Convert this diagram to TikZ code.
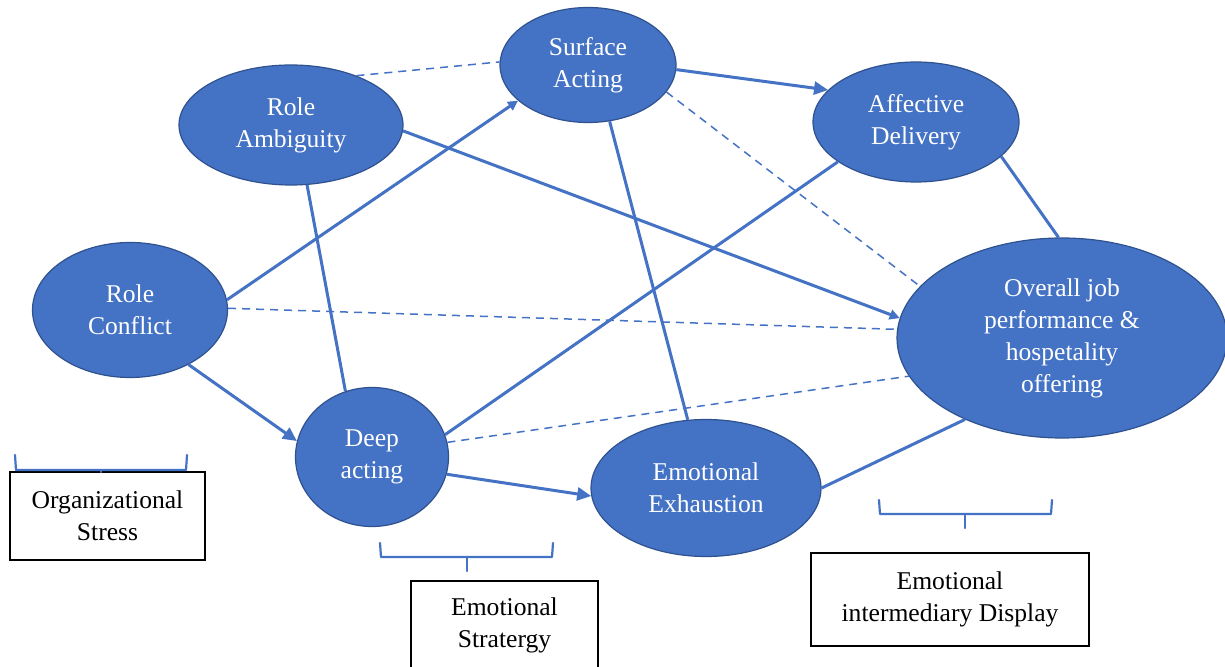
\documentclass[tikz,border=0pt]{standalone}
\usepackage{fontspec}
\setmainfont{Liberation Serif}
\usetikzlibrary{shapes.geometric,arrows.meta}
\definecolor{nodeblue}{HTML}{4472C4}
\definecolor{edgeblue}{HTML}{2F528F}
\begin{document}
\begin{tikzpicture}[x=0.5pt,y=-0.5pt,
  ell/.style={ellipse, fill=nodeblue, draw=edgeblue, line width=0.6pt, inner sep=0pt,
    text=white, align=center, font=\fontsize{12.8}{16}\selectfont},
  box/.style={rectangle, draw=black, line width=0.6pt, fill=white, inner sep=0pt,
    align=center, font=\fontsize{12.8}{16}\selectfont},
  link/.style={draw=nodeblue, line width=1.5pt},
  arr/.style={link, -{Triangle[length=7pt,width=6.5pt]}},
  sarr/.style={link, -{Triangle[length=5pt,width=5pt]}},
  dashlink/.style={draw=nodeblue, line width=0.75pt, dash pattern=on 4pt off 3pt},
  brace/.style={draw=nodeblue, line width=1.1pt, line cap=round, line join=round}]
\clip (0,0) rectangle (1225,667);
\fill[white] (0,0) rectangle (1225,667);

% boxes and brackets
\node[box, minimum width=97.5pt, minimum height=44pt] (os) at (107.5,516) {Organizational\\Stress};
\node[box, minimum width=93.5pt, minimum height=44.5pt] (es) at (504.5,625.5) {Emotional\\Stratergy};
\node[box, minimum width=139pt, minimum height=46.5pt] (ed) at (950,599.5) {Emotional\\intermediary Display};
\draw[brace] (15,455) -- (16,470) -- (186,470) -- (187,455);
\draw[brace] (101,470) -- (101,472);
\draw[brace] (380,543) -- (381,557) -- (552,557) -- (553,543);
\draw[brace] (467,557) -- (467,571);
\draw[brace] (879,500) -- (880,514) -- (1051,514) -- (1052,500);
\draw[brace] (965,514) -- (965,528);

% ellipses
\node[ell, minimum width=112pt, minimum height=60pt] (ra) at (291,125) {Role\\Ambiguity};
\node[ell, minimum width=88pt, minimum height=57.5pt] (sa) at (588,65) {Surface\\Acting};
\node[ell, minimum width=103pt, minimum height=60pt] (ad) at (916,122) {Affective\\Delivery};
\node[ell, minimum width=97.5pt, minimum height=67.5pt] (rc) at (130,310) {Role\\Conflict};
\node[ell, minimum width=165pt, minimum height=100pt] (ov) at (1062,338) {Overall job\\performance \&\\hospetality\\offering};
\node[ell, minimum width=76.5pt, minimum height=69.5pt] (da) at (372,457) {Deep\\acting};
\node[ell, minimum width=115pt, minimum height=68.5pt] (ee) at (706,488) {Emotional\\Exhaustion};

% dashed connectors
\draw[dashlink] (ra.37) -- (sa.178);
\draw[dashlink] (sa.-19) -- (ov.160);
\draw[dashlink] (rc.1) -- (ov.177);
\draw[dashlink] (da.11) -- (ov.194);

% solid connectors
\draw[arr] (sa.-3) -- (ad.160);
\draw[sarr] (rc.6) -- (sa.207);
\draw[arr] (rc.-43) -- (da.168);
\draw[arr] (da.-13) -- (ee.184);
\draw[link] (ra.-75) -- (da.112);
\draw[sarr] (ra.-3) -- (ov.173);
\draw[link] (sa.-69) -- (ee.105);
\draw[link] (da.17) -- (ad.207);
\draw[link] (ad.-22) -- (ov.92);
\draw[link] (ee.0) -- (ov.220);
\end{tikzpicture}
\end{document}
